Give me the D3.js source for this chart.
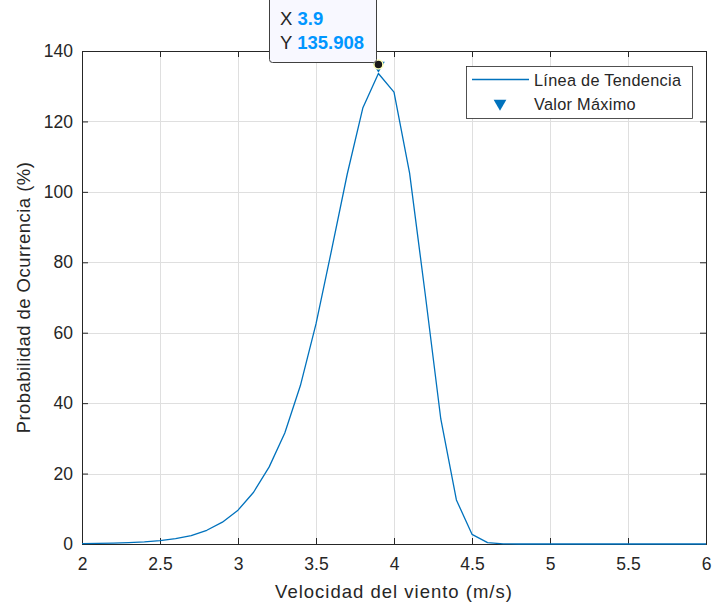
<!DOCTYPE html>
<html>
<head>
<meta charset="utf-8">
<script src="https://cdn.jsdelivr.net/npm/d3@7"></script>
<style>
  body { margin: 0; background: #fff; }
  text { font-family: "Liberation Sans", Arial, sans-serif; fill: #262626; }
</style>
</head>
<body>
<script>
const width = 713;
const height = 608;

// wind speed (m/s)
const speeds = [2.0, 2.1, 2.2, 2.3, 2.4, 2.5, 2.6, 2.7, 2.8, 2.9,
                3.0, 3.1, 3.2, 3.3, 3.4, 3.5, 3.6, 3.7, 3.8, 3.9,
                4.0, 4.1, 4.2, 4.3, 4.4, 4.5, 4.6, 4.7, 4.8, 4.9,
                5.0, 5.1, 5.2, 5.3, 5.4, 5.5, 5.6, 5.7, 5.8, 5.9, 6.0];
// probability of occurrence (%)
const probs = [0.1, 0.15, 0.25, 0.4, 0.6, 0.95, 1.5, 2.4, 3.9, 6.2,
               9.6, 14.7, 21.9, 31.5, 45, 62.5, 83.5, 105, 123.8, 133.6,
               128.3, 105.3, 71, 35.5, 12.5, 2.75, 0.4, 0.05, 0, 0,
               0, 0, 0, 0, 0, 0, 0, 0, 0, 0, 0];

const maxPoint = { x: 3.9, y: 135.908 };

const xTicks = [2, 2.5, 3, 3.5, 4, 4.5, 5, 5.5, 6];
const yTicks = [0, 20, 40, 60, 80, 100, 120, 140];

const plot = { left: 82, right: 706, top: 51, bottom: 544 };

const svg = d3.select("body").append("svg")
    .attr("width", width)
    .attr("height", height)
    .style("background", "#fff");

const x = d3.scaleLinear().domain([2, 6]).range([plot.left, plot.right]);
const y = d3.scaleLinear().domain([0, 140]).range([plot.bottom, plot.top]);

// grid
const grid = svg.append("g").attr("stroke", "#dfdfdf").attr("stroke-width", 1);
grid.selectAll(".gx").data(xTicks.slice(1, -1)).join("line")
    .attr("x1", d => Math.round(x(d)) + 0.5).attr("x2", d => Math.round(x(d)) + 0.5)
    .attr("y1", plot.top).attr("y2", plot.bottom);
grid.selectAll(".gy").data(yTicks.slice(1, -1)).join("line")
    .attr("y1", d => Math.round(y(d)) + 0.5).attr("y2", d => Math.round(y(d)) + 0.5)
    .attr("x1", plot.left).attr("x2", plot.right);

// axes (MATLAB style, ticks inside on all sides)
const tickLen = 6;
const axColor = "#262626";
const fmt = d => d3.format("")(d);

svg.append("g")
    .attr("transform", `translate(0,${plot.bottom})`)
    .call(d3.axisBottom(x).tickValues(xTicks).tickSize(-tickLen).tickPadding(tickLen + 8).tickFormat(fmt))
    .call(g => g.selectAll("text").attr("font-size", 17.5).attr("font-family", "Liberation Sans, Arial, sans-serif").attr("fill", axColor))
    .call(g => g.selectAll("line, path").attr("stroke", axColor));

svg.append("g")
    .attr("transform", `translate(${plot.left},0)`)
    .call(d3.axisLeft(y).tickValues(yTicks).tickSize(-tickLen).tickPadding(tickLen + 3).tickFormat(fmt))
    .call(g => g.selectAll("text").attr("font-size", 17.5).attr("font-family", "Liberation Sans, Arial, sans-serif").attr("fill", axColor))
    .call(g => g.selectAll("line, path").attr("stroke", axColor));

svg.append("g")
    .attr("transform", `translate(0,${plot.top})`)
    .call(d3.axisTop(x).tickValues(xTicks).tickSize(-tickLen).tickFormat(""))
    .call(g => g.selectAll("line, path").attr("stroke", axColor));

svg.append("g")
    .attr("transform", `translate(${plot.right},0)`)
    .call(d3.axisRight(y).tickValues(yTicks).tickSize(-tickLen).tickFormat(""))
    .call(g => g.selectAll("line, path").attr("stroke", axColor));

// axis labels
svg.append("text")
    .attr("x", (plot.left + plot.right) / 2)
    .attr("y", 598)
    .attr("text-anchor", "middle")
    .attr("font-size", 18.5)
    .attr("letter-spacing", 1)
    .text("Velocidad del viento (m/s)");

svg.append("text")
    .attr("transform", `translate(30,${(plot.top + plot.bottom) / 2}) rotate(-90)`)
    .attr("text-anchor", "middle")
    .attr("font-size", 18.5)
    .attr("letter-spacing", 0.45)
    .text("Probabilidad de Ocurrencia (%)");

// trend line
const line = d3.line()
    .x((d, i) => x(speeds[i]))
    .y(d => y(d));

svg.append("path")
    .datum(probs)
    .attr("fill", "none")
    .attr("stroke", "#0072bd")
    .attr("stroke-width", 1.3)
    .attr("stroke-linejoin", "round")
    .attr("d", line);

// max marker
const tri = d3.symbol().type(d3.symbolTriangle).size(70);
svg.append("path")
    .attr("d", tri())
    .attr("transform", `translate(${x(maxPoint.x)},${y(maxPoint.y)}) rotate(180)`)
    .attr("fill", "#0072bd");

// datatip
const tipX = x(maxPoint.x), tipY = y(maxPoint.y) - 1;
svg.append("circle")
    .attr("cx", tipX).attr("cy", tipY).attr("r", 4.5)
    .attr("fill", "#1a1a1a")
    .attr("stroke", "#ffffb3")
    .attr("stroke-width", 1.5);

const tip = svg.append("g");
tip.append("rect")
    .attr("x", 269.5).attr("y", -8)
    .attr("width", 107).attr("height", 70.5)
    .attr("rx", 3)
    .attr("fill", "#f8f8ff")
    .attr("stroke", "#404040")
    .attr("stroke-width", 1);
const tipRows = [["X", maxPoint.x], ["Y", maxPoint.y]];
tipRows.forEach((r, i) => {
  const t = tip.append("text")
      .attr("x", 280)
      .attr("y", 25 + i * 23.5)
      .attr("font-size", 18.5);
  t.append("tspan").text(r[0] + " ");
  t.append("tspan").attr("font-weight", "bold").style("fill", "#0096ff").text(r[1]);
});

// legend
const legend = svg.append("g");
legend.append("rect")
    .attr("x", 466.5).attr("y", 66.5)
    .attr("width", 226).attr("height", 52)
    .attr("fill", "#fff")
    .attr("stroke", "#262626")
    .attr("stroke-width", 0.8);
legend.append("line")
    .attr("x1", 472).attr("x2", 529)
    .attr("y1", 79.5).attr("y2", 79.5)
    .attr("stroke", "#0072bd")
    .attr("stroke-width", 1.3);
legend.append("path")
    .attr("d", tri())
    .attr("transform", "translate(500,103.5) rotate(180)")
    .attr("fill", "#0072bd");
legend.append("text")
    .attr("x", 534).attr("y", 86)
    .attr("font-size", 16.3)
    .attr("letter-spacing", 0.3)
    .text("Línea de Tendencia");
legend.append("text")
    .attr("x", 534).attr("y", 110)
    .attr("font-size", 16.3)
    .attr("letter-spacing", 0.3)
    .text("Valor Máximo");
</script>
</body>
</html>
